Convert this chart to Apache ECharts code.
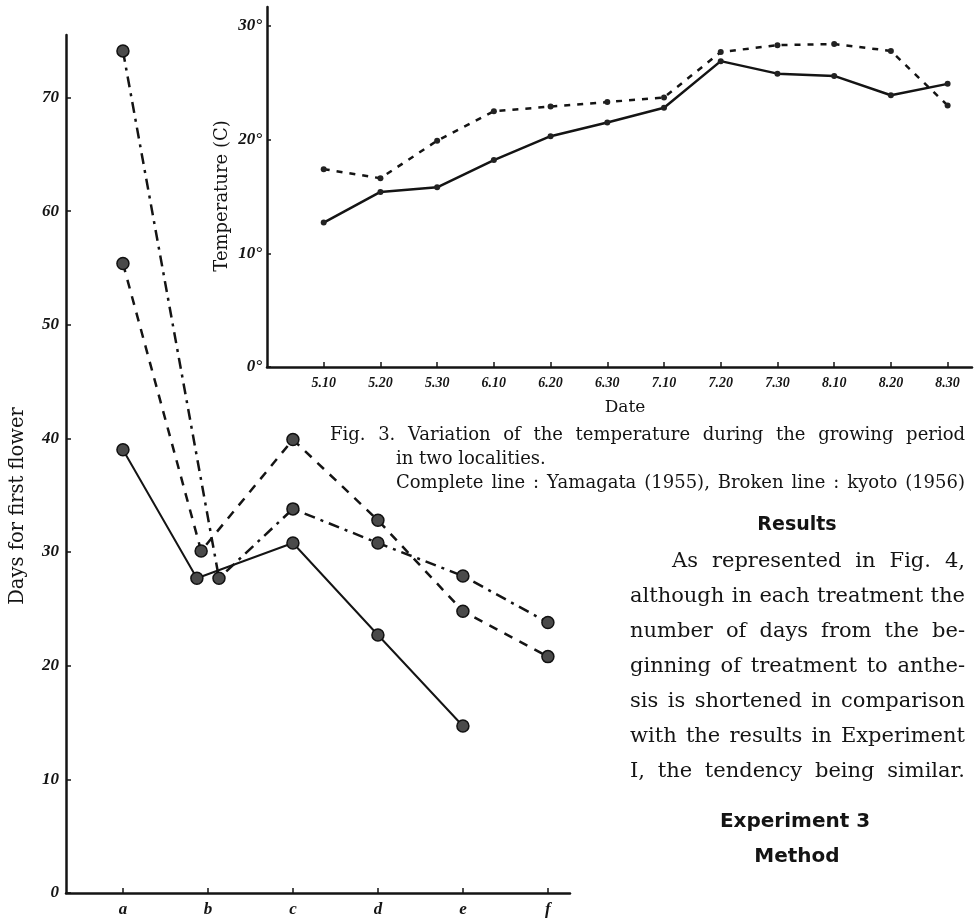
<!DOCTYPE html>
<html><head><meta charset="utf-8">
<script src="https://cdn.jsdelivr.net/npm/echarts@6/dist/echarts.min.js"></script>
<style>html,body{margin:0;padding:0;background:#fff}#c{width:974px;height:923px}</style>
</head><body><div id="c"></div>
<script>
// ---- Fig. 4 : days for first flower ----
const treatments = ['a', 'b', 'c', 'd', 'e', 'f'];
const solidDays   = [39.0, 27.7, 30.8, 22.7, 14.7, null];
const dashedDays  = [55.4, 30.1, 39.9, 32.8, 24.8, 20.8];
const dashDotDays = [74.1, 27.7, 33.8, 30.8, 27.9, 23.8];
const daysTicks = [0, 10, 20, 30, 40, 50, 60, 70];
// small horizontal separation of the overlapping points at treatment b (in category units)
const bSeparation = { solid: -0.13, dashed: -0.08, dashDot: 0.13 };

// ---- Fig. 3 : temperature ----
const dates = ['5.10', '5.20', '5.30', '6.10', '6.20', '6.30', '7.10', '7.20', '7.30', '8.10', '8.20', '8.30'];
const yamagata1955 = [12.7, 15.4, 15.8, 18.2, 20.3, 21.5, 22.8, 26.9, 25.8, 25.6, 23.9, 24.9];
const kyoto1956    = [17.4, 16.6, 19.9, 22.5, 22.9, 23.3, 23.7, 27.7, 28.3, 28.4, 27.8, 23.0];
const tempTicks = [0, 10, 20, 30];

// ---- text ----
const captionLines = [
  'Fig. 3. Variation of the temperature during the growing period',
  'in two localities.',
  'Complete line : Yamagata (1955), Broken line : kyoto (1956)'
];
const paragraphLines = [
  'As represented in Fig. 4,',
  'although in each treatment the',
  'number of days from the be-',
  'ginning of treatment to anthe-',
  'sis is shortened in comparison',
  'with the results in Experiment',
  'I, the tendency being similar.'
];

function pairs(values, shift) {
  const out = [];
  values.forEach((v, i) => { if (v !== null) out.push([i + (i === 1 ? shift : 0), v]); });
  return out;
}

const INK = '#141414';
const SERIF = '"DejaVu Serif", serif';
const ctx = document.createElement('canvas').getContext('2d');
function measure(t, font) { ctx.font = font; return ctx.measureText(t).width; }
function justify(str, L, R, y, font) {
  const words = str.split(' ');
  const ws = words.map(w => measure(w, font));
  const total = ws.reduce((a, b) => a + b, 0);
  const gap = words.length > 1 ? (R - L - total) / (words.length - 1) : 0;
  let x = L; const out = [];
  words.forEach((w, i) => {
    out.push({ type: 'text', x: x, y: y, silent: true,
      style: { text: w, font: font, fill: INK, textAlign: 'left', textVerticalAlign: 'middle' } });
    x += ws[i] + gap;
  });
  return out;
}

const capFont = '18px ' + SERIF;
const parFont = '21px ' + SERIF;
const headFont = 'bold 19px "DejaVu Sans", sans-serif';
let graphics = [];
graphics = graphics.concat(justify(captionLines[0], 330, 965, 435, capFont));
graphics.push({ type: 'text', x: 396, y: 459, silent: true,
  style: { text: captionLines[1], font: capFont, fill: INK, textAlign: 'left', textVerticalAlign: 'middle' } });
graphics = graphics.concat(justify(captionLines[2], 396, 965, 483, capFont));
graphics.push({ type: 'text', x: 797, y: 525, silent: true,
  style: { text: 'Results', font: headFont, fill: INK, textAlign: 'center', textVerticalAlign: 'middle' } });
paragraphLines.forEach((ln, i) => {
  graphics = graphics.concat(justify(ln, i === 0 ? 672 : 630, 965, 562 + i * 35, parFont));
});
graphics.push({ type: 'text', x: 795, y: 822, silent: true,
  style: { text: 'Experiment 3', font: 'bold 20px "DejaVu Sans", sans-serif', fill: INK, textAlign: 'center', textVerticalAlign: 'middle' } });
graphics.push({ type: 'text', x: 797, y: 857, silent: true,
  style: { text: 'Method', font: 'bold 20px "DejaVu Sans", sans-serif', fill: INK, textAlign: 'center', textVerticalAlign: 'middle' } });
// axis titles
graphics.push({ type: 'text', x: 18, y: 506, rotation: Math.PI / 2, silent: true,
  style: { text: 'Days for first flower', font: '19.5px ' + SERIF, fill: INK, textAlign: 'center', textVerticalAlign: 'middle' } });
graphics.push({ type: 'text', x: 222, y: 196, rotation: Math.PI / 2, silent: true,
  style: { text: 'Temperature (C)', font: '18px ' + SERIF, fill: INK, textAlign: 'center', textVerticalAlign: 'middle' } });
graphics.push({ type: 'text', x: 625, y: 408, silent: true,
  style: { text: 'Date', font: '17px ' + SERIF, fill: INK, textAlign: 'center', textVerticalAlign: 'middle' } });

const tickLabelFont = { fontFamily: '"Liberation Serif", serif', fontStyle: 'italic', fontWeight: 'bold', color: INK };
const noZero = { onZero: false };

const bigMarker = { color: '#4a4a4a', borderColor: '#111', borderWidth: 1.5 };

const option = {
  animation: false,
  backgroundColor: '#fff',
  grid: [
    { left: 66, top: 35, width: 504, bottom: 30 },
    { left: 267, top: 7, right: 2, bottom: 556 }
  ],
  xAxis: [
    { type: 'value', gridIndex: 0, min: -0.67, max: 5.26,
      splitLine: { show: false },
      axisLine: { show: true, ...noZero, lineStyle: { color: INK, width: 2.5 } },
      axisTick: { show: true, inside: true, length: 5, customValues: treatments.map((t, i) => i), lineStyle: { color: INK, width: 1.5 } },
      axisLabel: { customValues: treatments.map((t, i) => i), formatter: v => treatments[Math.round(v)] || '',
        fontSize: 17, margin: 8, ...tickLabelFont } },
    { type: 'value', gridIndex: 1, min: -1, max: 11.43,
      splitLine: { show: false },
      axisLine: { show: true, ...noZero, lineStyle: { color: INK, width: 2.5 } },
      axisTick: { show: true, inside: true, length: 5, customValues: dates.map((d, i) => i), lineStyle: { color: INK, width: 1.5 } },
      axisLabel: { customValues: dates.map((d, i) => i), formatter: v => dates[Math.round(v)] || '',
        fontSize: 14, margin: 9, ...tickLabelFont } }
  ],
  yAxis: [
    { type: 'value', gridIndex: 0, min: 0, max: 75.5,
      splitLine: { show: false },
      axisLine: { show: true, ...noZero, lineStyle: { color: INK, width: 2.5 } },
      axisTick: { show: true, inside: true, length: 5, customValues: daysTicks, lineStyle: { color: INK, width: 1.5 } },
      axisLabel: { customValues: daysTicks, formatter: v => String(v), fontSize: 17, margin: 7, ...tickLabelFont } },
    { type: 'value', gridIndex: 1, min: 0, max: 31.66,
      splitLine: { show: false },
      axisLine: { show: true, ...noZero, lineStyle: { color: INK, width: 2.5 } },
      axisTick: { show: true, inside: true, length: 4, customValues: tempTicks, lineStyle: { color: INK, width: 1.5 } },
      axisLabel: { customValues: tempTicks, formatter: v => v + '°', fontSize: 17, margin: 5, ...tickLabelFont } }
  ],
  series: [
    { name: 'solid', type: 'line', xAxisIndex: 0, yAxisIndex: 0, data: pairs(solidDays, bSeparation.solid),
      symbol: 'circle', symbolSize: 12, itemStyle: bigMarker, lineStyle: { color: INK, width: 2 }, z: 3 },
    { name: 'dashed', type: 'line', xAxisIndex: 0, yAxisIndex: 0, data: pairs(dashedDays, bSeparation.dashed),
      symbol: 'circle', symbolSize: 12, itemStyle: bigMarker, lineStyle: { color: INK, width: 2.5, type: [9, 8] }, z: 3 },
    { name: 'dashdot', type: 'line', xAxisIndex: 0, yAxisIndex: 0, data: pairs(dashDotDays, bSeparation.dashDot),
      symbol: 'circle', symbolSize: 12, itemStyle: bigMarker, lineStyle: { color: INK, width: 2.5, type: [11, 6, 3, 6] }, z: 3 },
    { name: 'Yamagata (1955)', type: 'line', xAxisIndex: 1, yAxisIndex: 1, data: yamagata1955.map((v, i) => [i, v]),
      symbol: 'circle', symbolSize: 6, itemStyle: { color: '#222' }, lineStyle: { color: INK, width: 2.5 } },
    { name: 'kyoto (1956)', type: 'line', xAxisIndex: 1, yAxisIndex: 1, data: kyoto1956.map((v, i) => [i, v]),
      symbol: 'circle', symbolSize: 6, itemStyle: { color: '#222' }, lineStyle: { color: INK, width: 2.5, type: [6, 7] } }
  ],
  graphic: graphics
};

const chart = echarts.init(document.getElementById('c'), null, { renderer: 'canvas' });
chart.setOption(option);
</script>
</body></html>
